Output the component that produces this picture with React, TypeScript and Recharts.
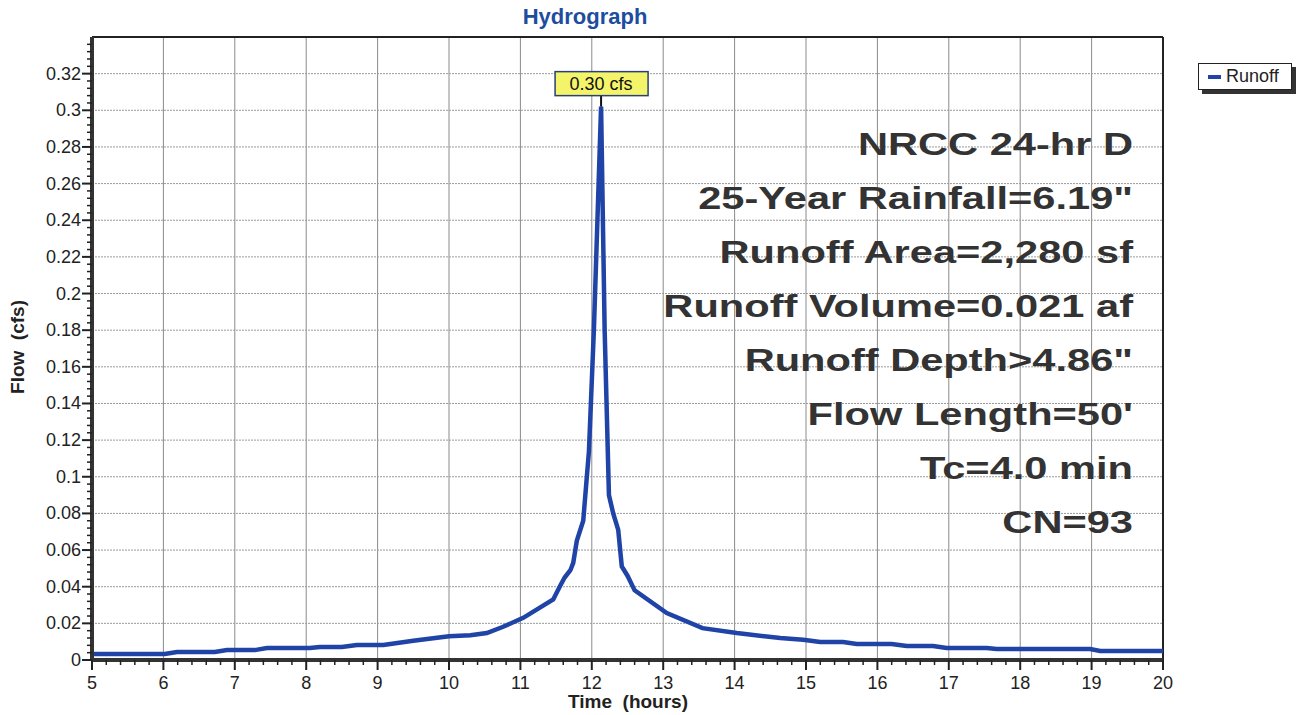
import React from 'react';
import { LineChart, Line, XAxis, YAxis, ReferenceLine, ReferenceDot } from 'recharts';

document.body.style.margin = '0';

// hydrograph (time in hours, flow in cfs)
const hours = [
  5.0, 6.02, 6.19, 6.72, 6.89, 7.28, 7.45, 8.05, 8.19, 8.5, 8.71, 9.08, 9.5, 10.0, 10.3, 10.53,
  10.75, 11.04, 11.25, 11.46, 11.55, 11.62, 11.7, 11.74, 11.79, 11.88, 11.96, 12.03, 12.13,
  12.18, 12.24, 12.3, 12.37, 12.42, 12.5, 12.6, 13.05, 13.55, 14.03, 14.64, 14.96, 15.2, 15.52,
  15.71, 16.2, 16.41, 16.78, 16.97, 17.53, 17.67, 18.98, 19.12, 20.0,
];
const flowCfs = [
  0.0033, 0.0033, 0.0044, 0.0044, 0.0054, 0.0054, 0.0065, 0.0065, 0.0071, 0.0071, 0.0082, 0.0082,
  0.0105, 0.013, 0.0135, 0.0147, 0.018, 0.023, 0.028, 0.033, 0.04, 0.045, 0.049, 0.053, 0.065,
  0.076, 0.114, 0.181, 0.302, 0.18, 0.09, 0.08, 0.071, 0.051, 0.046, 0.038, 0.0256, 0.0174,
  0.0147, 0.012, 0.011, 0.0098, 0.0098, 0.0087, 0.0087, 0.0076, 0.0076, 0.0065, 0.0065, 0.006,
  0.006, 0.0049, 0.0049,
];

const xMajorTicks = [5, 6, 7, 8, 9, 10, 11, 12, 13, 14, 15, 16, 17, 18, 19, 20];
const yMajorTicks = [0, 0.02, 0.04, 0.06, 0.08, 0.1, 0.12, 0.14, 0.16, 0.18, 0.2, 0.22, 0.24, 0.26, 0.28, 0.3, 0.32];
const yTop = 0.34;

const infoLines = [
  'NRCC 24-hr D',
  '25-Year Rainfall=6.19"',
  'Runoff Area=2,280 sf',
  'Runoff Volume=0.021 af',
  'Runoff Depth>4.86"',
  "Flow Length=50'",
  'Tc=4.0 min',
  'CN=93',
];
const peakLabel = '0.30 cfs';
const seriesName = 'Runoff';

const data = hours.map((h, i) => ({ time: h, flow: flowCfs[i] }));
const peak = data.reduce((a, b) => (b.flow > a.flow ? b : a));

// minor ticks: 5 per hour on x, 5 per 0.02 on y
const xTicks: number[] = [];
for (let i = 0; i <= 75; i++) xTicks.push(Math.round((5 + i * 0.2) * 1000) / 1000);
const yTicks: number[] = [];
for (let i = 0; i < 85; i++) yTicks.push(Math.round(i * 0.004 * 10000) / 10000);

const LINE_BLUE = '#1f43a6';
const INK = '#222';

const XTick = (props: any) => {
  const { x, y, payload } = props;
  const v = payload.value;
  const major = Math.abs(v - Math.round(v)) < 1e-6;
  return (
    <g>
      <line x1={x} x2={x} y1={y} y2={y + (major ? 10 : 5)} stroke={INK} strokeWidth={major ? 2 : 1.5} />
      {major && (
        <text x={x} y={y + 29} textAnchor="middle" fontSize={18} fill={INK}>
          {v}
        </text>
      )}
    </g>
  );
};

const YTick = (props: any) => {
  const { x, y, payload } = props;
  const v = payload.value;
  const major = Math.abs(v * 50 - Math.round(v * 50)) < 1e-6;
  return (
    <g>
      <line x1={x} x2={x - (major ? 10 : 5)} y1={y} y2={y} stroke={INK} strokeWidth={major ? 2 : 1.5} />
      {major && (
        <text x={x - 11} y={y + 6} textAnchor="end" fontSize={18} fill={INK}>
          {Math.round(v * 100) / 100}
        </text>
      )}
    </g>
  );
};

const PeakTag = (props: any) => {
  const { cx, cy } = props;
  return (
    <g>
      <line x1={cx} x2={cx} y1={cy - 12} y2={cy} stroke="#111" strokeWidth={2} />
      <rect x={cx - 46} y={cy - 35} width={93} height={24} fill="#f4f46a" stroke="#2a3f7a" strokeWidth={1.5} />
      <text x={cx} y={cy - 16.5} textAnchor="middle" fontSize={18} fill="#111">
        {peakLabel}
      </text>
    </g>
  );
};

export default function App() {
  return (
    <div style={{ position: 'relative', width: 1302, height: 715, fontFamily: '"Liberation Sans", Arial, sans-serif', background: '#fff' }}>
      <div style={{ position: 'absolute', left: 0, width: 1170, top: 4, textAlign: 'center', fontSize: 22, fontWeight: 'bold', color: '#1d4d9f' }}>
        Hydrograph
      </div>
      <LineChart width={1302} height={715} data={data} margin={{ top: 37, right: 139, bottom: 25, left: 32 }}>
        {xMajorTicks.slice(1, -1).map((t) => (
          <ReferenceLine key={'vx' + t} x={t} stroke="#8a8a8a" strokeWidth={1} />
        ))}
        {yMajorTicks.slice(1).map((t) => (
          <ReferenceLine key={'hy' + t} y={t} stroke="#9a9a9a" strokeWidth={1} strokeDasharray="2 1" />
        ))}
        <ReferenceLine x={20} stroke={INK} strokeWidth={2} />
        <ReferenceLine y={yTop} stroke={INK} strokeWidth={2} />
        <XAxis
          dataKey="time"
          type="number"
          domain={[5, 20]}
          ticks={xTicks}
          interval={0}
          height={30}
          tickSize={0}
          tickMargin={0}
          tickLine={false}
          tick={XTick}
          axisLine={{ stroke: '#333', strokeWidth: 4 }}
          allowDataOverflow
        />
        <YAxis
          type="number"
          domain={[0, yTop]}
          ticks={yTicks}
          interval={0}
          width={60}
          tickSize={0}
          tickMargin={0}
          tickLine={false}
          tick={YTick}
          axisLine={{ stroke: '#333', strokeWidth: 4 }}
          allowDataOverflow
        />
        <Line
          type="linear"
          dataKey="flow"
          name={seriesName}
          stroke={LINE_BLUE}
          strokeWidth={4.5}
          dot={false}
          isAnimationActive={false}
        />
        <ReferenceDot x={peak.time} y={peak.flow} r={0} shape={PeakTag} />
      </LineChart>
      <div
        style={{ position: 'absolute', left: 0, width: 1133, top: 117, textAlign: 'right', fontSize: 32, lineHeight: '54px', fontWeight: 'bold', color: '#333', transform: 'scaleX(1.3)', transformOrigin: '1133px 0' }}
      >
        {infoLines.map((l) => (
          <div key={l}>{l}</div>
        ))}
      </div>
      <div style={{ position: 'absolute', left: 568, top: 691, fontSize: 19, fontWeight: 'bold', color: INK, whiteSpace: 'pre' }}>
        {'Time  (hours)'}
      </div>
      <div
        style={{ position: 'absolute', left: 18, top: 347, fontSize: 19, fontWeight: 'bold', color: INK, whiteSpace: 'pre', transform: 'translate(-50%, -50%) rotate(-90deg)' }}
      >
        {'Flow  (cfs)'}
      </div>
      <div
        style={{ position: 'absolute', left: 1198, top: 63, width: 94, height: 27, border: '1.5px solid #222', background: '#fff', boxShadow: '4px 4px 0 #333', boxSizing: 'border-box', display: 'flex', alignItems: 'center', fontSize: 18, color: INK }}
      >
        <span style={{ display: 'inline-block', width: 13, height: 4, background: LINE_BLUE, marginLeft: 9, marginRight: 5 }} />
        {seriesName}
      </div>
    </div>
  );
}
